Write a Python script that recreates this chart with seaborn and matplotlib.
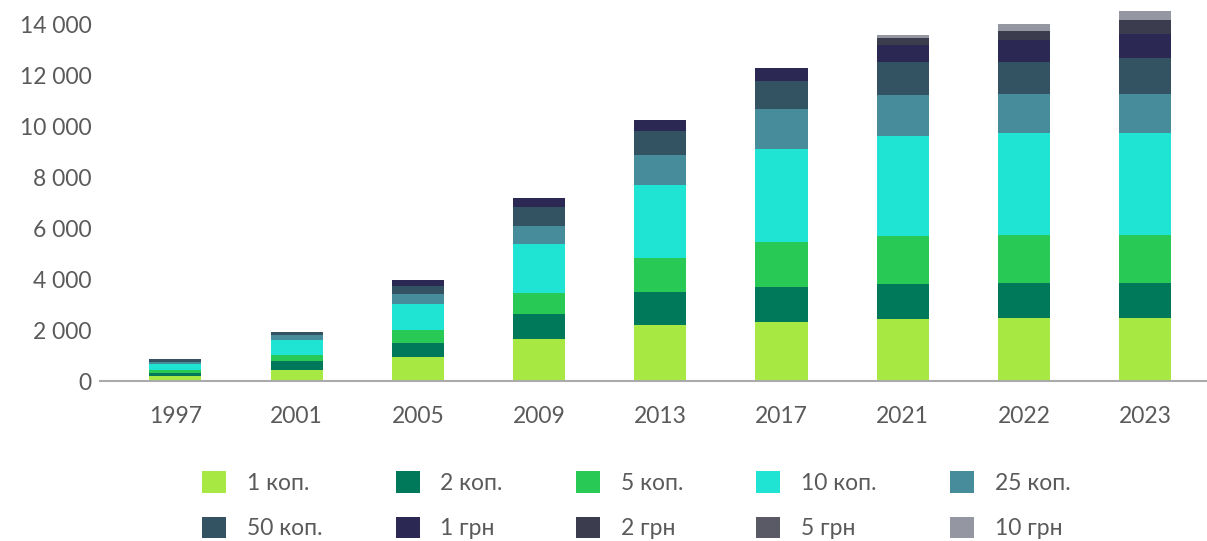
import numpy as np
import pandas as pd
import seaborn as sns
import matplotlib.pyplot as plt
from matplotlib.patches import Patch
from matplotlib.ticker import FuncFormatter

# Years and coin denominations
years = ["1997", "2001", "2005", "2009", "2013", "2017", "2021", "2022", "2023"]
labels = ["1 коп.", "2 коп.", "5 коп.", "10 коп.", "25 коп.",
          "50 коп.", "1 грн", "2 грн", "5 грн", "10 грн"]

# Values
kop1 = [200, 420, 940, 1650, 2200, 2310, 2430, 2460, 2460]
kop2 = [120, 350, 550, 980, 1290, 1370, 1370, 1370, 1370]
kop5 = [120, 240, 510, 820, 1330, 1760, 1880, 1880, 1880]
kop10 = [240, 590, 1020, 1920, 2860, 3650, 3920, 4000, 4000]
kop25 = [80, 200, 390, 710, 1180, 1570, 1610, 1530, 1530]
kop50 = [120, 120, 310, 750, 940, 1100, 1290, 1290, 1410]
grn1 = [0, 0, 240, 350, 430, 510, 670, 860, 940]
grn2 = [0, 0, 0, 0, 0, 0, 270, 350, 550]
grn5 = [0, 0, 0, 0, 0, 0, 0, 0, 0]
grn10 = [0, 0, 0, 0, 0, 0, 120, 270, 390]

colors = ["#a8e842", "#00795a", "#28c955", "#1fe3d3", "#478c9a",
          "#335262", "#2b2954", "#3c3c4f", "#5a5a66", "#9497a1"]

series = [kop1, kop2, kop5, kop10, kop25, kop50, grn1, grn2, grn5, grn10]
df = pd.DataFrame(np.array(series).T, index=years, columns=labels)
cum = df.cumsum(axis=1)

sns.set_style("white")
plt.rcParams["font.family"] = ["Lato", "DejaVu Sans"]
text_color = "#5a5a5a"

fig = plt.figure(figsize=(12.07, 5.41), dpi=100)
ax = fig.add_axes([0.083, 0.2957, 0.917, 0.695])

# stacked bars: draw cumulative totals from the top layer down
for lab, col in reversed(list(zip(labels, colors))):
    sns.barplot(x=cum.index, y=cum[lab].values, color=col, saturation=1,
                width=0.43, ax=ax, linewidth=0)

ax.set_xlim(-0.62, 8.51)
ax.set_ylim(0, 14745)
ax.set_yticks(np.arange(0, 14001, 2000))
ax.yaxis.set_major_formatter(FuncFormatter(lambda v, p: f"{int(v):,}".replace(",", " ")))
ax.set_xlabel("")
ax.set_ylabel("")

for s in ["top", "right", "left"]:
    ax.spines[s].set_visible(False)
ax.spines["bottom"].set_color("#aaaaaa")
ax.spines["bottom"].set_linewidth(1.5)

ax.tick_params(axis="both", length=0, labelsize=16.5, colors=text_color)
ax.tick_params(axis="x", pad=18)
ax.tick_params(axis="y", pad=6)

# legend: two rows, five columns (row-wise order)
handles = [Patch(facecolor=c, edgecolor="none") for c in colors]
order = [0, 5, 1, 6, 2, 7, 3, 8, 4, 9]
leg = fig.legend([handles[i] for i in order], [labels[i] for i in order],
                 ncol=5, loc="center", bbox_to_anchor=(0.527, 0.066),
                 frameon=False, fontsize=16.5, handlelength=1.05, handleheight=1.05,
                 handletextpad=0.9, columnspacing=3.2, labelspacing=1.0,
                 labelcolor=text_color)

plt.savefig("out.png", dpi=100)
